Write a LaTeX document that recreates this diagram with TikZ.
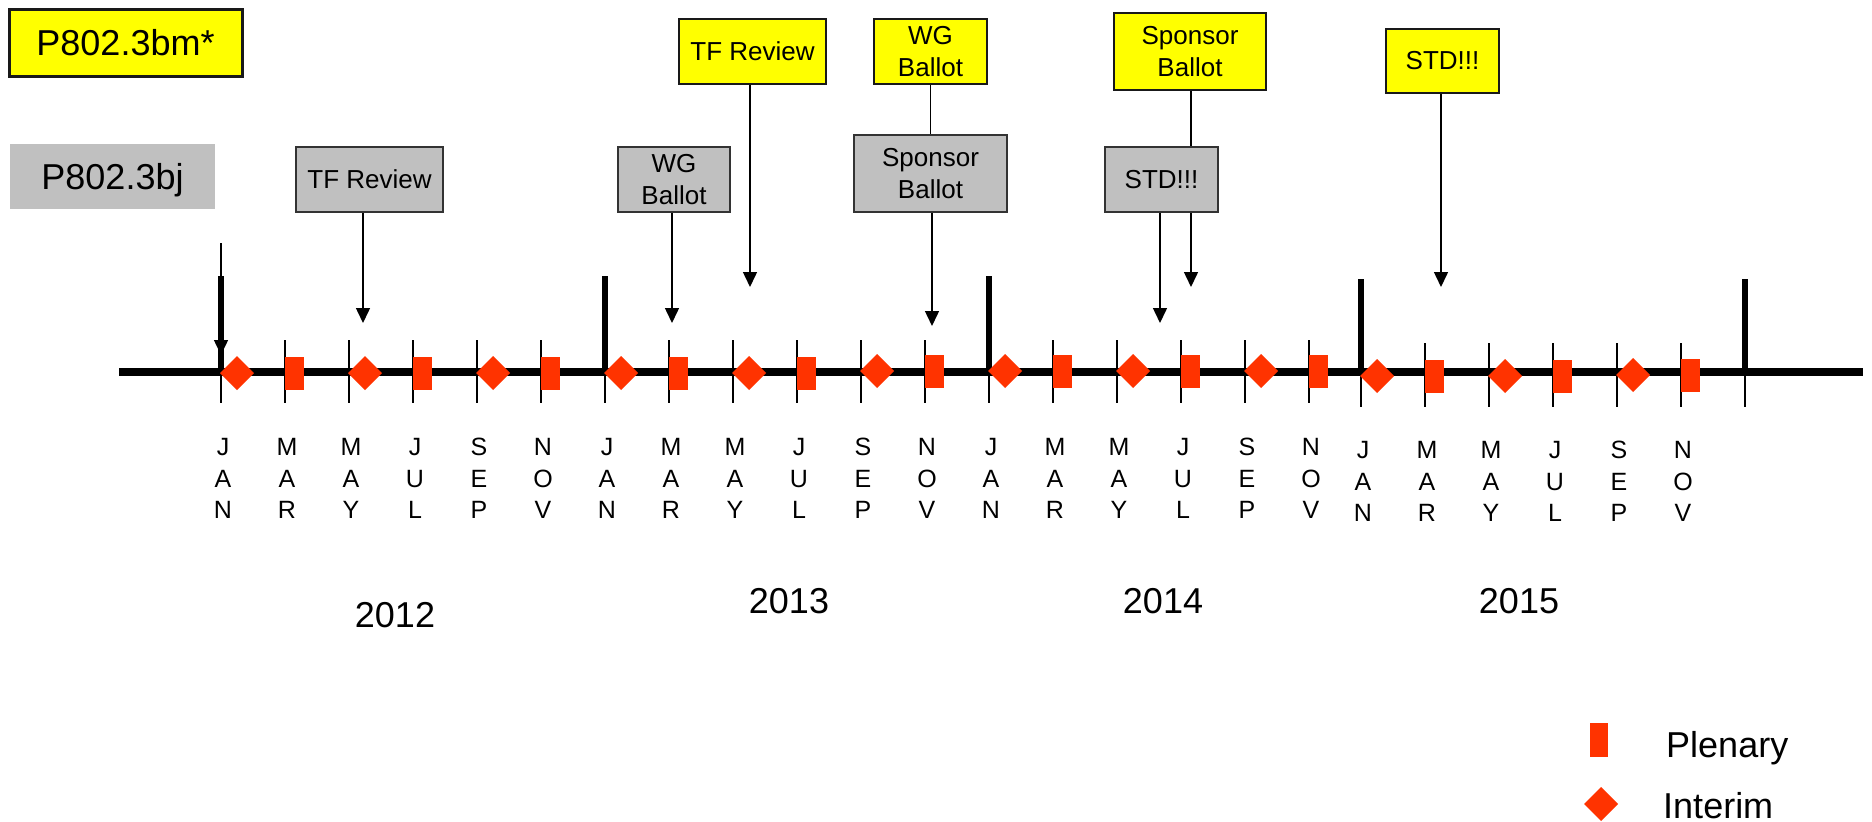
\documentclass[tikz,border=0pt]{standalone}
\usepackage{fontspec}
\setmainfont{Liberation Sans}
\usetikzlibrary{arrows.meta}
\definecolor{evred}{HTML}{FF3300}
\definecolor{boxyellow}{HTML}{FFFF00}
\definecolor{boxgray}{HTML}{C0C0C0}
\begin{document}
\begin{tikzpicture}[x=1pt,y=-1pt,
  lbl/.style={font=\fontsize{26}{32}\selectfont, align=center, inner sep=0pt, text=black},
  ybox/.style={lbl, draw=black!90, line width=2pt, fill=boxyellow},
  gbox/.style={lbl, draw=black!80, line width=2pt, fill=boxgray},
  arr/.style={line width=1.5pt, -{Triangle[length=15pt,width=14pt]}},
  conn/.style={line width=1.5pt},
  mainline/.style={line width=8pt},
  thintick/.style={line width=1.8pt},
  yearbar/.style={line width=5.5pt},
  mon/.style={font=\fontsize{25}{30}\selectfont, anchor=base, inner sep=0pt},
  yr/.style={font=\fontsize{36}{40}\selectfont, anchor=base, inner sep=0pt},
  leg/.style={font=\fontsize{36}{40}\selectfont, anchor=base west, inner sep=0pt}]
\useasboundingbox (0,0) rectangle (1872,822);
\fill[white] (0,0) rectangle (1872,822);

% title boxes
\node[ybox, line width=3pt, font=\fontsize{36}{40}\selectfont, minimum width=233pt, minimum height=67pt] (bm) at (125.5,42.5) {P802.3bm*};
\node[lbl, fill=boxgray, font=\fontsize{36}{40}\selectfont, text depth=0pt, minimum width=205pt, minimum height=65pt] (bj) at (112.5,176.5) {P802.3bj};

% milestone boxes
\node[gbox, minimum width=147pt, minimum height=65pt] (tf1) at (369.5,179.5) {TF Review};
\node[gbox, minimum width=112pt, minimum height=65pt] (wg1) at (674,179.5) {WG\\Ballot};
\node[ybox, minimum width=147pt, minimum height=65pt] (tf2) at (752.5,51.5) {TF Review};
\node[ybox, minimum width=113pt, minimum height=65pt] (wg2) at (930.5,51.5) {WG\\Ballot};
\node[gbox, minimum width=153pt, minimum height=77pt] (sp1) at (930.5,173.5) {Sponsor\\Ballot};
\node[ybox, minimum width=152pt, minimum height=77pt] (sp2) at (1190,51.5) {Sponsor\\Ballot};
\node[gbox, minimum width=113pt, minimum height=65pt] (std1) at (1161.5,179.5) {STD!!!};
\node[ybox, minimum width=113pt, minimum height=64pt] (std2) at (1442.5,61) {STD!!!};

% arrow targets
\coordinate (a0s) at (221,243);
\coordinate (a0e) at (221,355);
\coordinate (t1) at (363,323);
\coordinate (t2) at (672,323);
\coordinate (t3) at (750,287);
\coordinate (t4) at (932,326);
\coordinate (t5) at (1160,323);
\coordinate (t6) at (1191,287);
\coordinate (t7) at (1441,287);

% ticks
\foreach \x in {221,285,...,1309} \draw[thintick] (\x,340) -- (\x,403);
\foreach \x in {1361,1425,...,1745} \draw[thintick] (\x,343) -- (\x,407);
% main line
\draw[mainline] (119,372) -- (1863,372);
% year bars
\foreach \x in {221,605,989} \draw[yearbar] (\x,276) -- (\x,372);
\foreach \x in {1361,1745} \draw[yearbar] (\x,279) -- (\x,372);

% interim meetings
\foreach \x/\y in {237/373,365/373,493/373,621/373,749/373,877/371,1005/371,1133/371,1261/371,1377/376,1505/376,1633/375}
  \fill[evred] (\x-17,\y) -- (\x,\y-17) -- (\x+17,\y) -- (\x,\y+17) -- cycle;
% plenary meetings
\foreach \x/\y in {294/373.5,422/373.5,550/373.5,678/373.5,806/373.5,934/371,1062/371,1190/371,1318/371,1434/376.5,1562/376.5,1690/375}
  \fill[evred] (\x-9.5,\y-16.5) rectangle (\x+9.5,\y+16.5);

% arrows
\draw[arr] (a0s) -- (a0e);
\draw[arr] (tf1.south -| t1) -- (t1);
\draw[arr] (wg1.south -| t2) -- (t2);
\draw[arr] (tf2.south -| t3) -- (t3);
\draw[conn] (wg2.south) -- (sp1.north);
\draw[arr] (sp1.south -| t4) -- (t4);
\draw[conn] (sp2.south -| t6) -- (std1.north -| t6);
\draw[arr] (std1.south -| t6) -- (t6);
\draw[arr] (std1.south -| t5) -- (t5);
\draw[arr] (std2.south -| t7) -- (t7);

% month labels
\foreach \base/\by in {221/455,605/455,989/455,1361/458}
  \foreach \k/\a/\b/\c in {0/J/A/N,1/M/A/R,2/M/A/Y,3/J/U/L,4/S/E/P,5/N/O/V} {
    \node[mon] (m-\base-\k-a) at (\base+64*\k+2,\by) {\a};
    \node[mon] (m-\base-\k-b) at (\base+64*\k+2,\by+32) {\b};
    \node[mon] (m-\base-\k-c) at (\base+64*\k+2,\by+63) {\c};
  }

% years
\node[yr] (y12) at (395,627) {2012};
\node[yr] (y13) at (789,613) {2013};
\node[yr] (y14) at (1163,613) {2014};
\node[yr] (y15) at (1519,613) {2015};

% legend
\fill[evred] (1590,723) rectangle (1608,757);
\fill[evred] (1584,804) -- (1601,787) -- (1618,804) -- (1601,821) -- cycle;
\node[leg] (lp) at (1666,757) {Plenary};
\node[leg] (li) at (1663,818) {Interim};
\end{tikzpicture}
\end{document}
